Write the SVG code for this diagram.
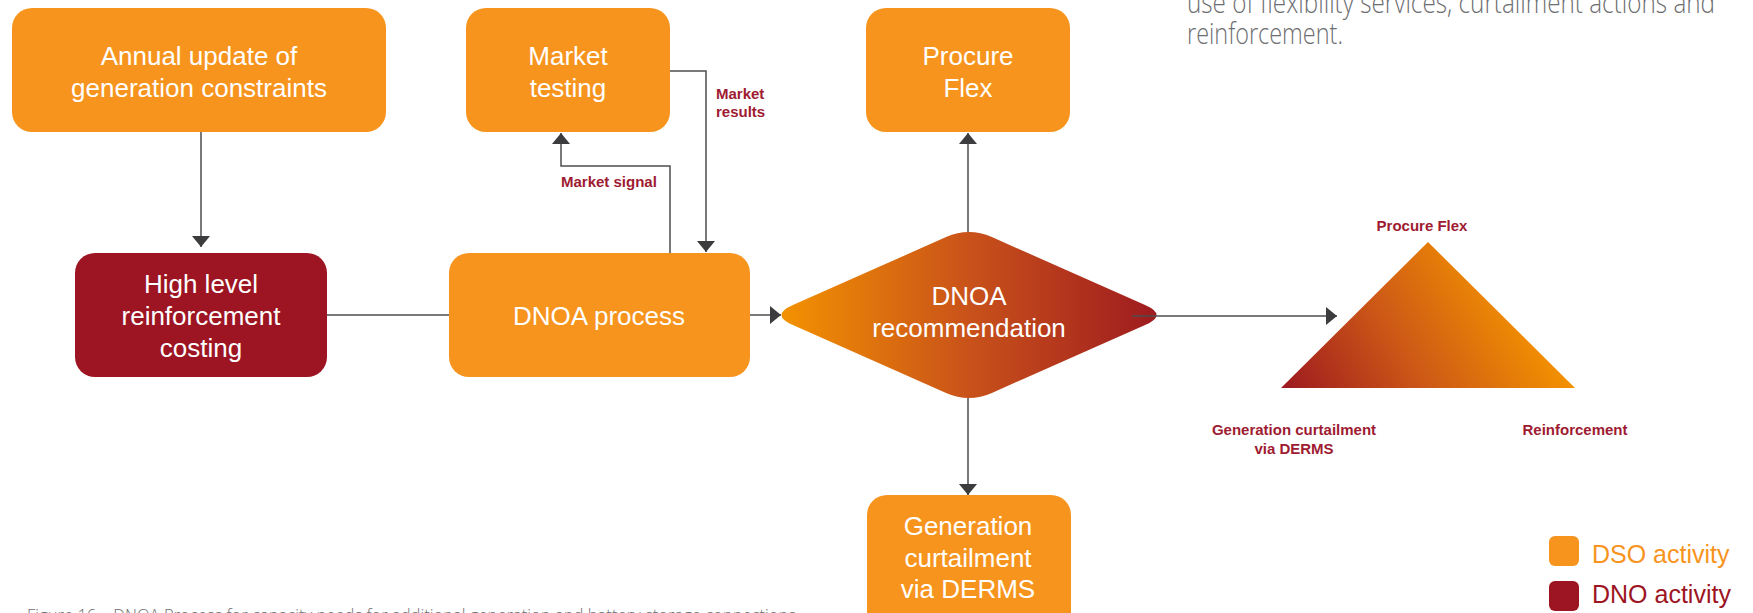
<svg xmlns="http://www.w3.org/2000/svg" width="1753" height="613" viewBox="0 0 1753 613">
  <style>
    .dso { fill: #F7941E; }
    .dno { fill: #9D1523; }
    .node-text { font-family: "Liberation Sans", Arial, sans-serif; font-size: 26px; fill: #FFFFFF; text-anchor: middle; }
    .label { font-family: "Liberation Sans", Arial, sans-serif; font-size: 15px; font-weight: 600; fill: #9E1B32; }
    .mid { text-anchor: middle; }
    .conn { fill: none; stroke: #4D4D4F; stroke-width: 1.5; }
    .note { font-family: "Open Sans", "Liberation Sans", sans-serif; font-weight: 300; fill: #6D6E71; }
    .legend-text { font-family: "Liberation Sans", Arial, sans-serif; font-size: 25px; }
  </style>
  <defs>
    <marker id="arrow" markerUnits="userSpaceOnUse" markerWidth="11" markerHeight="18" viewBox="0 0 11 18" refX="11" refY="9" orient="auto">
      <path d="M0,0 L11,9 L0,18 Z" fill="#3C3C3E"/>
    </marker>
    <linearGradient id="diamondGrad" gradientUnits="userSpaceOnUse" x1="781" y1="0" x2="1156" y2="0">
      <stop offset="0" stop-color="#F39200"/>
      <stop offset="0.5" stop-color="#C9521A"/>
      <stop offset="1" stop-color="#9E1B1F"/>
    </linearGradient>
    <linearGradient id="triGrad" gradientUnits="userSpaceOnUse" x1="1290" y1="395" x2="1500" y2="265">
      <stop offset="0" stop-color="#9E1B1F"/>
      <stop offset="0.5" stop-color="#CE5A16"/>
      <stop offset="1" stop-color="#F39200"/>
    </linearGradient>
  </defs>

  <!-- explanatory note (continues above the frame) -->
  <g id="note">
    <text class="note" x="1187" y="13" font-size="30" textLength="528" lengthAdjust="spacingAndGlyphs">use of flexibility services, curtailment actions and</text>
    <text class="note" x="1187" y="44" font-size="30" textLength="156" lengthAdjust="spacingAndGlyphs">reinforcement.</text>
  </g>

  <!-- nodes -->
  <g id="annual-update">
    <rect class="dso" x="12" y="8" width="374" height="124" rx="20"/>
    <text class="node-text" x="199" y="65">Annual update of</text>
    <text class="node-text" x="199" y="97">generation constraints</text>
  </g>

  <g id="market-testing">
    <rect class="dso" x="466" y="8" width="204" height="124" rx="20"/>
    <text class="node-text" x="568" y="65">Market</text>
    <text class="node-text" x="568" y="97">testing</text>
  </g>

  <g id="procure-flex">
    <rect class="dso" x="866" y="8" width="204" height="124" rx="20"/>
    <text class="node-text" x="968" y="65">Procure</text>
    <text class="node-text" x="968" y="97">Flex</text>
  </g>

  <g id="high-level-costing">
    <rect class="dno" x="75" y="253" width="252" height="124" rx="20"/>
    <text class="node-text" x="201" y="293">High level</text>
    <text class="node-text" x="201" y="325">reinforcement</text>
    <text class="node-text" x="201" y="357">costing</text>
  </g>

  <g id="dnoa-process">
    <rect class="dso" x="449" y="253" width="301" height="124" rx="20"/>
    <text class="node-text" x="599" y="325">DNOA process</text>
  </g>

  <g id="dnoa-recommendation">
    <path d="M792.9,304.9 L946.1,237.1 Q969,227 991.9,237.1 L1145.1,304.9 Q1168,315 1145.1,325.1 L991.9,392.9 Q969,403 946.1,392.9 L792.9,325.1 Q770,315 792.9,304.9 Z" fill="url(#diamondGrad)"/>
    <text class="node-text" x="969" y="305">DNOA</text>
    <text class="node-text" x="969" y="337">recommendation</text>
  </g>

  <g id="generation-curtailment">
    <rect class="dso" x="867" y="495" width="204" height="150" rx="20"/>
    <text class="node-text" x="968" y="535">Generation</text>
    <text class="node-text" x="968" y="567">curtailment</text>
    <text class="node-text" x="968" y="598">via DERMS</text>
  </g>

  <!-- balance of options -->
  <g id="options-triangle">
    <path d="M1428,242 L1575,388 L1281,388 Z" fill="url(#triGrad)"/>
    <text class="label mid" x="1422" y="231">Procure Flex</text>
    <text class="label mid" x="1294" y="435">Generation curtailment</text>
    <text class="label mid" x="1294" y="454">via DERMS</text>
    <text class="label mid" x="1575" y="435">Reinforcement</text>
  </g>

  <!-- connectors -->
  <g id="connectors">
    <line class="conn" x1="201" y1="132" x2="201" y2="247" marker-end="url(#arrow)"/>
    <line class="conn" x1="327" y1="315" x2="449" y2="315"/>
    <polyline class="conn" points="670,253 670,166 561,166 561,133" marker-end="url(#arrow)"/>
    <polyline class="conn" points="670,71 706,71 706,252" marker-end="url(#arrow)"/>
    <line class="conn" x1="750" y1="315" x2="781" y2="315" marker-end="url(#arrow)"/>
    <line class="conn" x1="968" y1="232" x2="968" y2="133" marker-end="url(#arrow)"/>
    <line class="conn" x1="968" y1="398" x2="968" y2="495" marker-end="url(#arrow)"/>
    <line class="conn" x1="1132" y1="316" x2="1337" y2="316" marker-end="url(#arrow)"/>
    <text class="label" x="561" y="187">Market signal</text>
    <text class="label" x="716" y="99">Market</text>
    <text class="label" x="716" y="117">results</text>
  </g>

  <!-- legend -->
  <g id="legend">
    <rect class="dso" x="1549" y="536" width="30" height="30" rx="6"/>
    <text class="legend-text" x="1592" y="563" fill="#F7941E">DSO activity</text>
    <rect class="dno" x="1549" y="581" width="30" height="30" rx="6"/>
    <text class="legend-text" x="1592" y="603" fill="#9D1523">DNO activity</text>
  </g>

  <!-- figure caption -->
  <g id="caption">
    <text class="note" x="27" y="622" font-size="19" textLength="769" lengthAdjust="spacingAndGlyphs">Figure 16 – DNOA Process for capacity needs for additional generation and battery storage connections</text>
  </g>
</svg>
